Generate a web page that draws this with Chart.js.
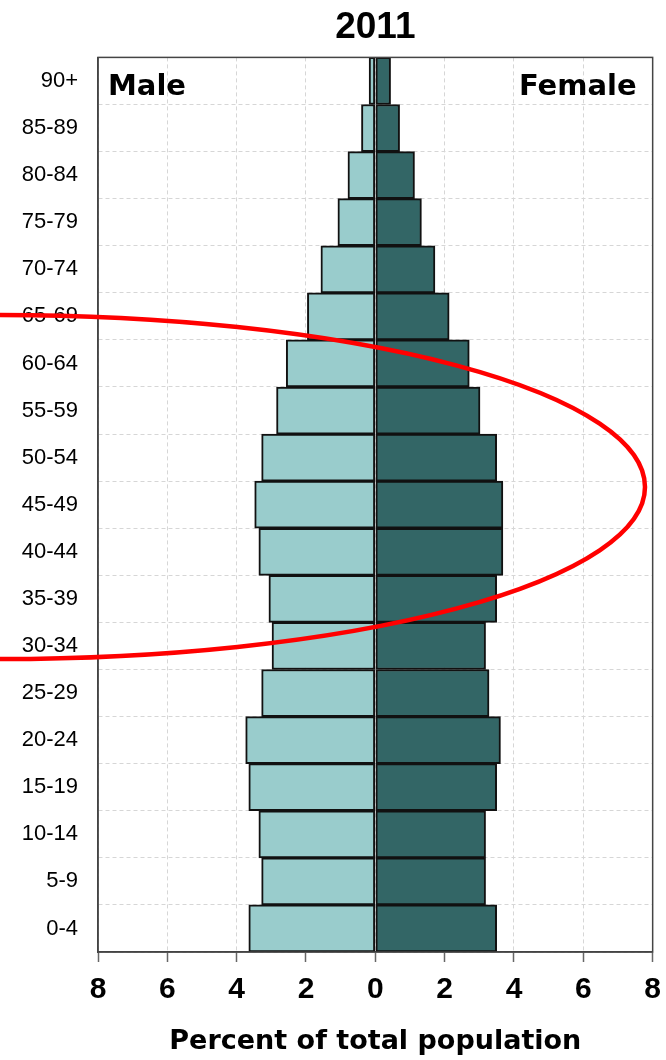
<!DOCTYPE html>
<html>
<head>
<meta charset="utf-8">
<script src="https://cdn.jsdelivr.net/npm/chart.js@4.4.1/dist/chart.umd.min.js"></script>
<style>
  html, body { margin: 0; padding: 0; background: #fff; }
  #wrap { width: 666px; height: 1060px; }
</style>
</head>
<body>
<div id="wrap"><canvas id="pyramid" width="666" height="1060"></canvas></div>
<script>
// age groups, bottom to top
const ageGroups = ['0-4', '5-9', '10-14', '15-19', '20-24', '25-29', '30-34', '35-39', '40-44',
    '45-49', '50-54', '55-59', '60-64', '65-69', '70-74', '75-79', '80-84', '85-89', '90+'];
// percent of total population
const malePct = [3.65, 3.28, 3.36, 3.65, 3.74, 3.28, 2.98, 3.07, 3.36,
    3.48, 3.28, 2.85, 2.57, 1.96, 1.57, 1.08, 0.79, 0.40, 0.18];
const femalePct = [3.50, 3.18, 3.18, 3.50, 3.61, 3.28, 3.18, 3.50, 3.68,
    3.68, 3.50, 3.02, 2.71, 2.13, 1.72, 1.33, 1.13, 0.70, 0.44];
const xRange = [-8, 8];
const xStep = 2;

const gridColor = '#d6d6d6';

// frame round the plot + Male / Female captions
const framePlugin = {
    id: 'frame',
    afterDatasetsDraw(chart) {
        const { ctx, chartArea: a } = chart;
        ctx.save();
        ctx.strokeStyle = '#444';
        ctx.lineWidth = 1.5;
        ctx.strokeRect(a.left, a.top, a.right - a.left, a.bottom - a.top);
        ctx.fillStyle = '#000';
        ctx.font = 'bold 29px "DejaVu Sans"';
        ctx.textBaseline = 'alphabetic';
        ctx.textAlign = 'left';
        ctx.fillText('Male', a.left + 10, a.top + 38);
        ctx.textAlign = 'right';
        ctx.fillText('Female', a.right - 16, a.top + 38);
        ctx.restore();
    }
};

// red hand-drawn ring over the middle ages
const ringPlugin = {
    id: 'ring',
    afterDraw(chart) {
        const ctx = chart.ctx;
        ctx.save();
        ctx.strokeStyle = '#ff0000';
        ctx.lineWidth = 4.5;
        ctx.beginPath();
        ctx.ellipse(0, 487, 645, 172, 0, 0, Math.PI * 2);
        ctx.stroke();
        ctx.restore();
    }
};

new Chart(document.getElementById('pyramid'), {
    type: 'bar',
    data: {
        labels: ageGroups,
        datasets: [
            {
                label: 'Male',
                data: malePct.map(v => -v),
                backgroundColor: '#99cccc',
                borderColor: '#111',
                borderWidth: 2,
                borderSkipped: false,
                barPercentage: 1,
                categoryPercentage: 1
            },
            {
                label: 'Female',
                data: femalePct,
                backgroundColor: '#336666',
                borderColor: '#111',
                borderWidth: 2,
                borderSkipped: false,
                barPercentage: 1,
                categoryPercentage: 1
            }
        ]
    },
    options: {
        indexAxis: 'y',
        responsive: false,
        animation: false,
        layout: { padding: { left: 0, right: 13, top: 0, bottom: 0 } },
        plugins: {
            legend: { display: false },
            tooltip: { enabled: false },
            title: {
                display: true,
                text: '2011',
                fullSize: false,
                color: '#000',
                font: { family: '"Liberation Sans", Arial', size: 37, weight: 'bold' },
                padding: { top: 6, bottom: 7 }
            }
        },
        scales: {
            x: {
                stacked: true,
                min: xRange[0],
                max: xRange[1],
                ticks: {
                    stepSize: xStep,
                    color: '#000',
                    padding: 5,
                    maxRotation: 0,
                    font: { family: '"Liberation Sans", Arial', size: 30, weight: 'bold', lineHeight: 1.5 },
                    callback: v => Math.abs(v)
                },
                grid: { color: gridColor, tickLength: 10, tickColor: '#666', tickWidth: 1.5 },
                border: { color: '#444', width: 1.5, dash: [4, 3] },
                title: {
                    display: true,
                    text: 'Percent of total population',
                    color: '#000',
                    font: { family: '"DejaVu Sans"', size: 27, weight: 'bold' },
                    padding: { top: 0, bottom: 2 }
                },
                afterFit: s => { s.height = 108; }
            },
            y: {
                stacked: true,
                reverse: true,
                ticks: {
                    color: '#000',
                    padding: 20,
                    font: { family: '"Liberation Sans", Arial', size: 22 }
                },
                grid: { color: gridColor, drawTicks: false },
                border: { color: '#444', width: 1.5, dash: [4, 3] },
                afterFit: s => { s.width = 98; }
            }
        }
    },
    plugins: [framePlugin, ringPlugin]
});
</script>
</body>
</html>
